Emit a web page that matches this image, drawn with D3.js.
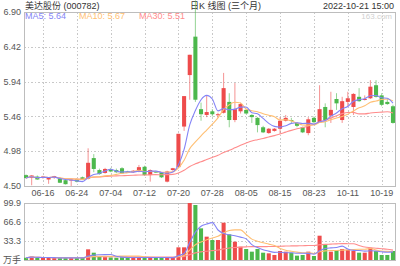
<!DOCTYPE html>
<html>
<head>
<meta charset="utf-8">
<script src="https://cdn.jsdelivr.net/npm/d3@7"></script>
<style>
  body { margin: 0; background: #fff; }
  text { font-family: "Liberation Sans", Arial, "Noto Sans CJK SC", sans-serif; }
</style>
</head>
<body>
<svg id="chart" width="400" height="266" viewBox="0 0 400 266"></svg>
<script>
const dates = ["06-13","06-14","06-15","06-16","06-17","06-20","06-21","06-22","06-23","06-24",
  "06-27","06-28","06-29","06-30","07-01","07-04","07-05","07-06","07-07","07-08",
  "07-11","07-12","07-13","07-14","07-15","07-18","07-19","07-20","07-21","07-22",
  "07-25","07-26","07-27","07-28","07-29","08-01","08-02","08-03","08-04","08-05",
  "08-08","08-09","08-10","08-11","08-12","08-15","08-16","08-17","08-18","08-19",
  "08-22","08-23","08-24","08-25","08-26","09-30","10-10","10-11","10-12","10-13",
  "10-14","10-17","10-18","10-19","10-20","10-21"];

const open = [4.65,4.61,4.63,4.615,4.59,4.625,4.61,4.58,4.575,4.595,
  4.62,4.60,4.885,4.72,4.68,4.73,4.72,4.745,4.70,4.69,
  4.70,4.765,4.65,4.70,4.685,4.56,4.72,4.76,5.32,6.03,
  6.56,5.56,5.48,5.53,5.48,5.51,5.66,5.41,5.53,5.55,
  5.48,5.44,5.31,5.23,5.26,5.29,5.40,5.41,5.37,5.31,
  5.23,5.44,5.38,5.59,5.47,5.70,5.41,5.66,5.59,5.73,
  5.69,5.71,5.89,5.75,5.66,5.60];
const close = [4.61,4.645,4.59,4.63,4.615,4.635,4.545,4.525,4.59,4.56,
  4.585,4.82,4.735,4.665,4.735,4.70,4.69,4.675,4.685,4.71,
  4.76,4.65,4.72,4.685,4.62,4.70,4.745,5.22,5.74,6.31,
  5.69,5.49,5.52,5.49,5.49,5.85,5.41,5.56,5.63,5.50,
  5.45,5.34,5.24,5.29,5.29,5.40,5.44,5.40,5.33,5.24,
  5.42,5.38,5.56,5.41,5.55,5.64,5.67,5.71,5.77,5.67,
  5.70,5.87,5.73,5.62,5.63,5.37];
const high = [4.66,4.65,4.645,4.64,4.62,4.64,4.625,4.59,4.595,4.605,
  4.63,5.02,4.94,4.74,4.75,4.75,4.74,4.76,4.71,4.72,
  4.79,4.78,4.73,4.71,4.69,4.71,4.75,5.22,5.74,6.31,
  7.06,5.65,5.75,5.56,5.51,6.06,5.78,5.92,5.65,5.56,
  5.49,5.45,5.33,5.30,5.30,5.45,5.48,5.44,5.38,5.32,
  5.45,5.46,5.89,5.64,5.80,5.78,5.73,5.80,5.78,5.85,
  5.75,5.96,5.96,5.78,5.70,5.62];
const low = [4.60,4.51,4.585,4.60,4.53,4.60,4.54,4.52,4.50,4.55,
  4.58,4.59,4.69,4.655,4.67,4.69,4.68,4.67,4.68,4.68,
  4.69,4.64,4.56,4.68,4.61,4.55,4.71,4.75,5.26,5.69,
  5.66,5.40,5.45,5.46,5.44,5.50,5.31,5.38,5.50,5.49,
  5.37,5.24,5.23,5.22,5.25,5.22,5.39,5.37,5.31,5.23,
  5.20,5.37,5.37,5.31,5.37,5.55,5.37,5.59,5.48,5.66,
  5.68,5.70,5.72,5.60,5.62,5.36];
// volume in 万手
const volume = [4,6,4,3.5,4,3.5,4,4,3.5,3.5,
  4,18.7,12.8,7,5,4.5,4,5,4,4,
  4.5,5,4.5,3.5,4,4.5,4,22.2,22.2,99.9,
  96.4,55.5,40.9,35,35,65.4,45,32,23.3,19.3,
  14.6,19.3,12.8,11.7,8.8,15.8,14.6,12.8,7.6,8.8,
  14.6,7,42.6,27.5,14.6,17.5,19.3,17.5,15.8,12.8,
  12.8,21.6,15.8,8.8,8.8,15.8];

const priceTicks = [4.50, 4.98, 5.46, 5.94, 6.42, 6.90];
const volTicks = [99.9, 66.6, 33.3];
const dateTicks = ["06-16","06-24","07-04","07-12","07-20","07-28","08-05","08-15","08-23","10-11","10-19"];
const maPeriods = [5, 10, 30];
const maColors = ["#8484f6", "#ffbf73", "#ff8c8c"];

const upColor = "#ee4b4b";
const downColor = "#4cb84c";
const gridColor = "#c8c8c8";
const frameColor = "#bdbdbd";

const svg = d3.select("#chart");
const left = 24, right = 395;
const mainTop = 12, mainBottom = 186;
const volTop = 203, volBottom = 260;

const data = dates.map((d, i) => ({
  date: d, open: open[i], close: close[i], high: high[i], low: low[i], vol: volume[i]
}));

// moving average over what is available (window shrinks at the start)
function movingAvg(values, n) {
  return values.map((v, i) => {
    const from = Math.max(0, i - n + 1);
    return d3.mean(values.slice(from, i + 1));
  });
}

const x = d3.scaleBand().domain(dates).range([left, right]).paddingInner(0.28);
const cx = (d) => x(d) + x.bandwidth() / 2;
const y = d3.scaleLinear().domain([4.5, 6.9]).range([mainBottom, mainTop]);
const yVol = d3.scaleLinear().domain([0, 99.9]).range([volBottom, volTop]);

// titles
svg.append("text").attr("x", 25).attr("y", 9).style("font-size", "9px").attr("fill", "#333")
  .text("美达股份 (000782)");
svg.append("text").attr("x", 190).attr("y", 9).style("font-size", "9px").attr("fill", "#333")
  .text("日K 线图 (三个月)");
svg.append("text").attr("x", 394).attr("y", 9).attr("text-anchor", "end").style("font-size", "9px").attr("fill", "#333")
  .text("2022-10-21 15:00");
svg.append("text").attr("x", 392).attr("y", 19).attr("text-anchor", "end").style("font-size", "8px").attr("fill", "#cfcfcf")
  .text("163.com");

// grid: main panel
const grid = svg.append("g").attr("class", "grid")
  .attr("stroke", gridColor).attr("stroke-dasharray", "1.5,2").attr("shape-rendering", "crispEdges");
grid.selectAll("line.h").data(priceTicks.slice(1)).enter().append("line")
  .attr("x1", left).attr("x2", right).attr("y1", (d) => Math.round(y(d)) + 0.5).attr("y2", (d) => Math.round(y(d)) + 0.5);
grid.selectAll("line.v").data(dateTicks).enter().append("line")
  .attr("x1", (d) => Math.round(cx(d)) + 0.5).attr("x2", (d) => Math.round(cx(d)) + 0.5)
  .attr("y1", mainTop).attr("y2", mainBottom);
// grid: volume panel
grid.selectAll("line.vh").data(volTicks.slice(1)).enter().append("line")
  .attr("x1", left).attr("x2", right).attr("y1", (d) => Math.round(yVol(d)) + 0.5).attr("y2", (d) => Math.round(yVol(d)) + 0.5);
grid.selectAll("line.vv").data(dateTicks).enter().append("line")
  .attr("x1", (d) => Math.round(cx(d)) + 0.5).attr("x2", (d) => Math.round(cx(d)) + 0.5)
  .attr("y1", volTop).attr("y2", volBottom);

// frames
svg.append("rect").attr("x", left + 0.5).attr("y", mainTop + 0.5).attr("width", right - left).attr("height", mainBottom - mainTop)
  .attr("fill", "none").attr("stroke", frameColor);
svg.append("rect").attr("x", left + 0.5).attr("y", volTop + 0.5).attr("width", right - left).attr("height", volBottom - volTop)
  .attr("fill", "none").attr("stroke", frameColor);

// axis labels
const labelColor = "#555";
svg.append("g").selectAll("text").data(priceTicks).enter().append("text")
  .attr("x", 21).attr("y", (d) => y(d)).attr("dy", "0.35em").attr("text-anchor", "end")
  .style("font-size", "9px").attr("fill", labelColor).text((d) => d.toFixed(2));
svg.append("g").selectAll("text").data(dateTicks).enter().append("text")
  .attr("x", (d) => cx(d)).attr("y", 196).attr("text-anchor", "middle")
  .style("font-size", "9px").attr("fill", labelColor).text((d) => d);
svg.append("g").selectAll("text").data(volTicks).enter().append("text")
  .attr("x", 21).attr("y", (d) => yVol(d)).attr("dy", "0.35em").attr("text-anchor", "end")
  .style("font-size", "9px").attr("fill", labelColor).text((d) => d.toFixed(1));
svg.append("text").attr("x", 21).attr("y", volBottom).attr("dy", "0.35em").attr("text-anchor", "end")
  .style("font-size", "9px").attr("fill", labelColor).text("万手");

// candles
const colorOf = (d) => (d.close >= d.open ? upColor : downColor);
const candles = svg.append("g").attr("class", "candles").selectAll("g").data(data).enter().append("g");
candles.append("line")
  .attr("x1", (d) => cx(d.date)).attr("x2", (d) => cx(d.date))
  .attr("y1", (d) => y(d.high)).attr("y2", (d) => y(d.low))
  .attr("stroke", colorOf).attr("stroke-opacity", 0.6).attr("stroke-width", 1);
candles.append("rect")
  .attr("x", (d) => x(d.date)).attr("width", x.bandwidth())
  .attr("y", (d) => y(Math.max(d.open, d.close)))
  .attr("height", (d) => Math.max(1, Math.abs(y(d.open) - y(d.close))))
  .attr("fill", colorOf);

// volume bars
svg.append("g").attr("class", "vol").selectAll("rect").data(data).enter().append("rect")
  .attr("x", (d) => x(d.date)).attr("width", x.bandwidth())
  .attr("y", (d) => yVol(d.vol)).attr("height", (d) => volBottom - yVol(d.vol))
  .attr("fill", colorOf);

// moving average lines
const closeMa = maPeriods.map((n) => movingAvg(close, n));
const volMa = maPeriods.map((n) => movingAvg(volume, n));

const priceLine = d3.line().x((d, i) => cx(dates[i])).y((d) => y(d)).curve(d3.curveMonotoneX);
const volLine = d3.line().x((d, i) => cx(dates[i])).y((d) => yVol(d)).curve(d3.curveMonotoneX);

const maG = svg.append("g").attr("fill", "none").attr("stroke-width", 1.1);
[2, 1, 0].forEach((k) => {
  maG.append("path").attr("d", priceLine(closeMa[k])).attr("stroke", maColors[k]);
  maG.append("path").attr("d", volLine(volMa[k])).attr("stroke", maColors[k]);
});

// legend
const legendX = [25, 79, 139];
svg.append("g").selectAll("text").data(maPeriods).enter().append("text")
  .attr("x", (d, i) => legendX[i]).attr("y", 19)
  .style("font-size", "9px").attr("fill", (d, i) => maColors[i])
  .text((d, i) => `MA${d}: ${closeMa[i][closeMa[i].length - 1].toFixed(2)}`);
</script>
</body>
</html>
